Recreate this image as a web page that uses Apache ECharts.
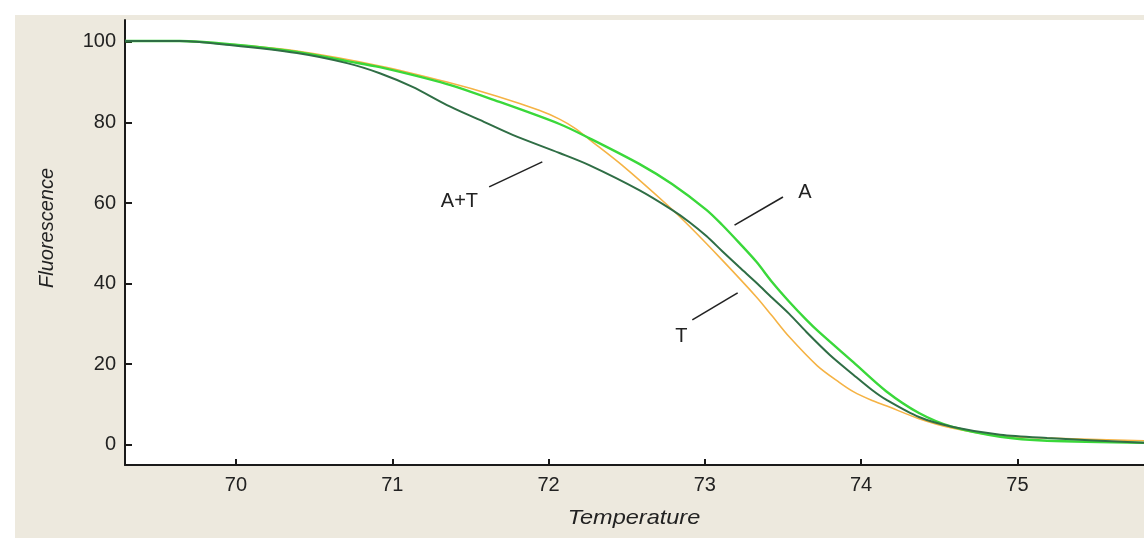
<!DOCTYPE html>
<html>
<head>
<meta charset="utf-8">
<script src="https://cdn.jsdelivr.net/npm/echarts@6/dist/echarts.min.js"></script>
<style>
html,body{margin:0;padding:0;background:#ffffff;}
#bg{position:absolute;left:15px;top:15px;width:1129px;height:523px;background:#ede9de;}
#chart{position:absolute;left:0;top:0;width:1144px;height:538px;}
</style>
</head>
<body>
<div id="bg"></div>
<div id="chart"></div>
<script>
// ---- data ----
const xTicks = [70, 71, 72, 73, 74, 75];
const yTicks = [0, 20, 40, 60, 80, 100];

const tempAT  = [69.29, 69.64, 69.96, 70.39, 70.71, 70.92, 71.13, 71.35, 71.56, 71.77, 72.07, 72.26, 72.58, 72.79, 72.90, 73.01, 73.11, 73.22, 73.33, 73.43, 73.54, 73.65, 73.80, 73.95, 74.07, 74.16, 74.37, 74.58, 74.89, 75.19, 75.81];
const fluorAT = [100.2, 100.2, 99.2, 97.2, 94.7, 92.2, 88.8, 84.3, 80.6, 76.9, 72.4, 69.4, 63.2, 58.3, 55.3, 51.8, 48.1, 44.1, 40.2, 36.5, 32.5, 28.0, 22.3, 17.4, 13.6, 11.2, 6.9, 4.5, 2.5, 1.7, 0.5];

const tempA   = [69.29, 69.64, 69.96, 70.39, 70.71, 70.92, 71.35, 71.67, 72.07, 72.26, 72.58, 72.79, 73.01, 73.11, 73.22, 73.33, 73.43, 73.54, 73.65, 73.73, 73.95, 74.16, 74.37, 74.58, 74.89, 75.19, 75.81];
const fluorA  = [100.2, 100.2, 99.4, 97.5, 95.2, 93.7, 89.5, 85.3, 79.6, 76.1, 69.7, 64.7, 58.3, 54.6, 50.1, 45.4, 40.4, 35.5, 31.0, 28.0, 20.5, 13.3, 7.9, 4.5, 2.0, 1.0, 0.5];

const tempT   = [69.29, 69.64, 69.96, 70.39, 70.92, 71.35, 71.67, 71.94, 72.07, 72.17, 72.26, 72.47, 72.76, 72.90, 73.11, 73.33, 73.43, 73.54, 73.72, 73.86, 73.95, 74.07, 74.16, 74.37, 74.58, 74.89, 75.19, 75.81];
const fluorT  = [100.2, 100.2, 99.4, 97.7, 94.0, 90.0, 86.5, 83.0, 80.8, 78.5, 75.8, 69.4, 59.5, 54.3, 45.9, 36.7, 32.0, 26.8, 19.6, 15.5, 13.2, 11.0, 9.7, 6.5, 4.2, 2.2, 1.7, 1.0];

// annotation labels (data units)
const annoLabels = ['A+T', 'A', 'T'];
const annoText   = [[71.43, 60.3], [73.64, 62.6], [72.85, 26.8]];
const annoLine   = [[[71.62, 64.0], [71.96, 70.2]], [[73.19, 54.5], [73.50, 61.5]], [[72.92, 31.0], [73.21, 37.7]]];

const zip = (xs, ys) => xs.map((x, i) => [x, ys[i]]);

const chart = echarts.init(document.getElementById('chart'), null, {renderer: 'canvas'});
const labelFont = 'Liberation Sans, Arial, sans-serif';

const option = {
  backgroundColor: 'transparent',
  animation: false,
  grid: {left: 125, top: 20, right: 0, bottom: 73, show: true, backgroundColor: '#ffffff', borderWidth: 0},
  xAxis: {
    type: 'value', min: 69.29, max: 75.81,
    axisLine: {show: true, onZero: false, lineStyle: {color: '#1a1a1a', width: 2}},
    axisTick: {show: true, inside: true, length: 6, customValues: xTicks, lineStyle: {color: '#1a1a1a', width: 2}},
    axisLabel: {customValues: xTicks, color: '#222', fontSize: 20, fontFamily: labelFont, margin: 10},
    splitLine: {show: false}
  },
  yAxis: {
    type: 'value', min: -5, max: 105.4,
    axisLine: {show: true, onZero: false, lineStyle: {color: '#1a1a1a', width: 2}},
    axisTick: {show: true, inside: true, length: 7, customValues: yTicks, lineStyle: {color: '#1a1a1a', width: 2}},
    axisLabel: {customValues: yTicks, color: '#222', fontSize: 20, fontFamily: labelFont, margin: 9},
    splitLine: {show: false}
  },
  series: [
    {name: 'T', type: 'line', data: zip(tempT, fluorT), smooth: 0.3, showSymbol: false, z: 2,
     lineStyle: {color: '#f5b345', width: 1.6}},
    {name: 'A', type: 'line', data: zip(tempA, fluorA), smooth: 0.3, showSymbol: false, z: 3,
     lineStyle: {color: '#3ad83a', width: 2.4}},
    {name: 'A+T', type: 'line', data: zip(tempAT, fluorAT), smooth: 0.3, showSymbol: false, z: 4,
     lineStyle: {color: '#2f6e45', width: 2}}
  ]
};
chart.setOption(option);

// axis names and annotations
const els = [
  {type: 'text', x: 47, y: 228, rotation: Math.PI / 2, style: {text: 'Fluorescence', fill: '#222', font: 'italic 20px Liberation Sans, Arial, sans-serif', align: 'center', verticalAlign: 'middle'}},
  {type: 'text', x: 634, y: 518, scaleX: 1.12, style: {text: 'Temperature', fill: '#222', font: 'italic 21px Liberation Sans, Arial, sans-serif', align: 'center', verticalAlign: 'middle'}}
];
annoLabels.forEach((lab, i) => {
  const p = chart.convertToPixel({gridIndex: 0}, annoText[i]);
  els.push({type: 'text', x: p[0], y: p[1], style: {text: lab, fill: '#222', font: '20px Liberation Sans, Arial, sans-serif', align: 'center', verticalAlign: 'middle'}});
  const a = chart.convertToPixel({gridIndex: 0}, annoLine[i][0]);
  const b = chart.convertToPixel({gridIndex: 0}, annoLine[i][1]);
  els.push({type: 'line', shape: {x1: a[0], y1: a[1], x2: b[0], y2: b[1]}, style: {stroke: '#222', lineWidth: 1.6}});
});
chart.setOption({graphic: {elements: els}});
</script>
</body>
</html>
